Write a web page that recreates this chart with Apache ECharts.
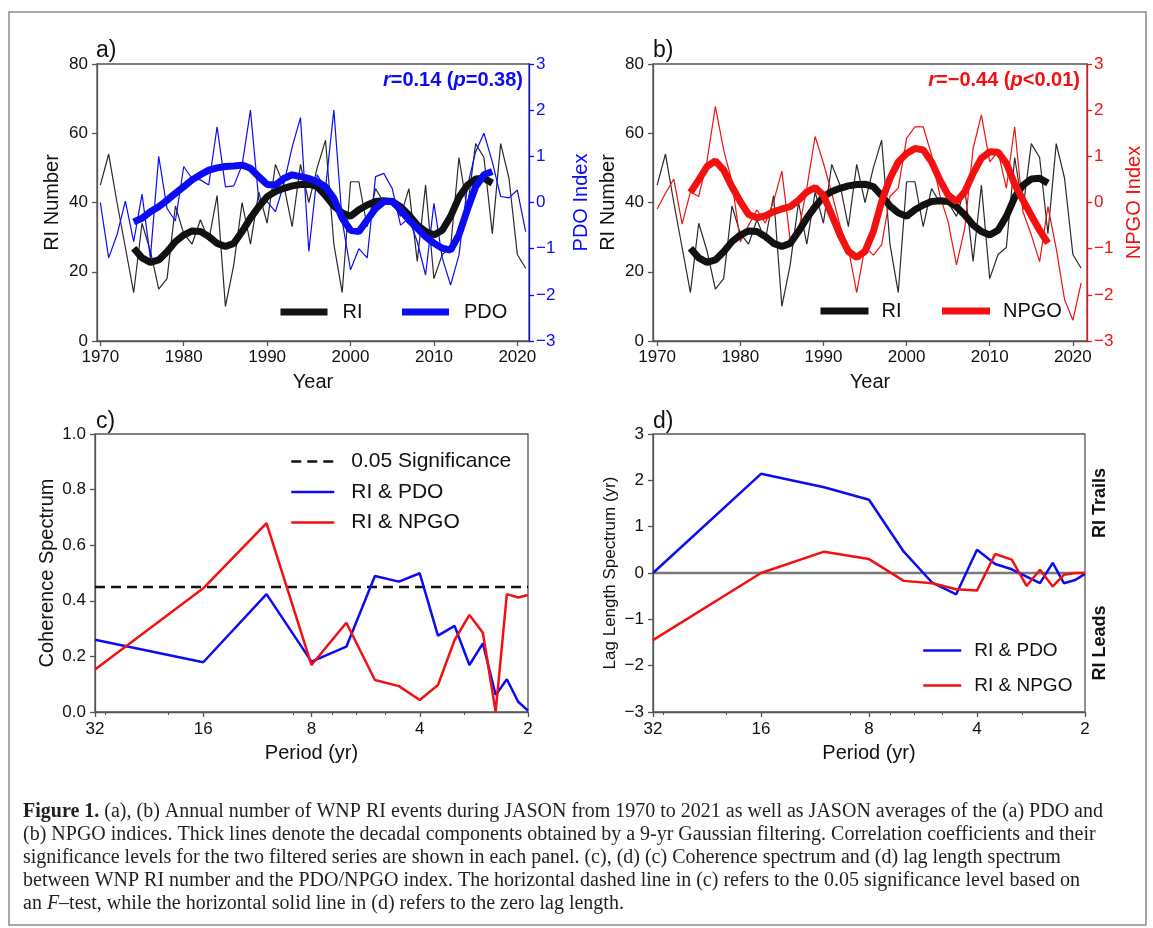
<!DOCTYPE html>
<html>
<head>
<meta charset="utf-8">
<title>Figure 1</title>
<script src="https://cdn.jsdelivr.net/npm/echarts@6/dist/echarts.min.js"></script>
<style>
  html, body { margin: 0; padding: 0; background: #fff; }
  #mychart { width: 1153px; height: 928px; }
</style>
</head>
<body>
<div id="mychart"></div>
<script>
// annual series, 1970-2021
const years = [1970, 1971, 1972, 1973, 1974, 1975, 1976, 1977, 1978, 1979,
  1980, 1981, 1982, 1983, 1984, 1985, 1986, 1987, 1988, 1989,
  1990, 1991, 1992, 1993, 1994, 1995, 1996, 1997, 1998, 1999,
  2000, 2001, 2002, 2003, 2004, 2005, 2006, 2007, 2008, 2009,
  2010, 2011, 2012, 2013, 2014, 2015, 2016, 2017, 2018, 2019,
  2020, 2021];
const riAnnual = [45, 54, 40, 27, 14, 34, 26, 15, 18, 39,
  31, 28, 35, 29, 42, 10, 22, 40, 28, 43,
  34, 51, 45, 33, 51, 40, 50, 58, 28, 14,
  46, 46, 33, 44, 40, 40, 36, 44, 23, 45,
  18, 25, 27, 53, 38, 57, 53, 31, 57, 47,
  25, 21];
const pdoAnnual = [0.0, -1.2, -0.7, 0.03, -0.85, 0.18, -1.2, 1.0, -0.13, -0.4,
  0.78, 0.52, 0.49, 0.38, 1.64, 0.34, 0.36, 0.81, 2.0, 0.05,
  0.02, -0.2, 0.4, 1.2, 1.84, -1.06, 0.6, 0.3, 2.0, -0.4,
  -1.46, -1.0, -1.2, 0.56, 0.63, 0.3, -0.49, -0.34, -0.85, -1.57,
  -0.02, -1.2, -1.79, -1.14, 0.34, 1.1, 1.5, 0.88, 0.13, 0.1,
  0.27, -0.63];
const npgoAnnual = [-0.14, 0.2, 0.51, -0.47, 0.23, 0.13, 0.9, 2.08, 1.14, 0.45,
  -0.85, -0.49, -0.16, -0.45, 0.02, 0.68, -0.81, -0.63, 0.31, 1.43,
  0.85, 0.2, -0.5, -1.0, -1.95, -0.96, -1.14, -0.92, 0.13, 0.31,
  1.39, 1.64, 1.64, 1.03, 0.16, -0.42, -1.35, -0.56, 1.17, 1.9,
  0.88, 1.1, 0.31, 1.64, -0.2, -0.7, -1.28, -0.09, -1.0, -2.1,
  -2.55, -1.74];

// 9-yr Gaussian filtered components, 1974-2017
const smoothYears = [1974, 1975, 1976, 1977, 1978, 1979, 1980, 1981, 1982, 1983,
  1984, 1985, 1986, 1987, 1988, 1989, 1990, 1991, 1992, 1993,
  1994, 1995, 1996, 1997, 1998, 1999, 2000, 2001, 2002, 2003,
  2004, 2005, 2006, 2007, 2008, 2009, 2010, 2011, 2012, 2013,
  2014, 2015, 2016, 2017];
const riSmooth = [26.8, 24, 22.7, 23.4, 25.8, 28.7, 30.6, 31.8, 31.6, 30.2,
  28.2, 27.3, 28.2, 31.6, 35.5, 38.8, 41.7, 43.2, 44.1, 44.8,
  45.2, 45.3, 44.6, 42, 39, 37, 36, 37.9, 39.3, 40.3,
  40.5, 40.3, 38.8, 36.4, 33.5, 31.6, 30.6, 32, 36, 41.5,
  45, 46.8, 47, 45.6];
const pdoSmooth = [-0.42, -0.34, -0.2, -0.09, 0.05, 0.2, 0.34, 0.49, 0.6, 0.7,
  0.75, 0.78, 0.79, 0.81, 0.74, 0.56, 0.39, 0.38, 0.52, 0.6,
  0.56, 0.52, 0.45, 0.34, 0.09, -0.34, -0.6, -0.63, -0.38, -0.13,
  0.02, 0.02, -0.16, -0.38, -0.56, -0.74, -0.88, -0.99, -1.03, -0.7,
  -0.16, 0.34, 0.6, 0.67];
const npgoSmooth = [0.22, 0.49, 0.78, 0.9, 0.7, 0.34, 0.02, -0.26, -0.33, -0.29,
  -0.2, -0.14, -0.09, 0.05, 0.23, 0.32, 0.16, -0.27, -0.7, -1.06,
  -1.19, -1.06, -0.63, 0.02, 0.52, 0.88, 1.06, 1.17, 1.14, 0.88,
  0.49, 0.16, 0.02, 0.23, 0.63, 0.96, 1.1, 1.09, 0.85, 0.4,
  0.05, -0.28, -0.6, -0.88];

// spectra, periods 32/k yr
const periods = [32, 16, 10.67, 8, 6.4, 5.33, 4.57, 4, 3.56, 3.2, 2.91, 2.67, 2.46, 2.29, 2.13, 2];
const cohPdo = [0.26, 0.179, 0.424, 0.181, 0.235, 0.489, 0.469, 0.499, 0.275, 0.31, 0.169, 0.247, 0.061, 0.118, 0.037, 0.005];
const cohNpgo = [0.153, 0.445, 0.679, 0.169, 0.321, 0.115, 0.093, 0.043, 0.097, 0.259, 0.349, 0.285, 0.001, 0.424, 0.412, 0.421];
const lagPdo = [0.0, 2.14, 1.85, 1.58, 0.46, -0.21, -0.46, 0.5, 0.195, 0.08, -0.08, -0.22, 0.22, -0.22, -0.15, -0.02];
const lagNpgo = [-1.45, 0.0, 0.46, 0.3, -0.17, -0.22, -0.35, -0.38, 0.41, 0.29, -0.28, 0.07, -0.29, -0.04, 0.0, 0.0];
const sigLevel = 0.45;
const zeroLag = 0;

// tick labels
const yearTicks = [1970, 1980, 1990, 2000, 2010, 2020];
const periodMinorTicks = [30, 20, 9, 7, 6, 5, 3];

const font = 'Liberation Sans, Arial, sans-serif';
const serif = 'Liberation Serif, Times New Roman, serif';
let colors = {
  text: '#111111',
  axis: '#555555',
  black: '#111111',
  thinBlack: '#2a2a2a',
  blue: '#0b0bf5',
  red: '#f21010',
  zero: '#7a7a7a',
  frame: '#8c8c8c',
  caption: '#231f20',
};

function pairs(xs, ys) {
  return xs.map((x, i) => [x, ys[i]]);
}

function minus(v) {
  return String(v).replace('-', '\u2212');
}

function lineSeries(name, x, y, data, color, width, extra) {
  return Object.assign({
    name: name,
    type: 'line',
    xAxisIndex: x,
    yAxisIndex: y,
    data: data,
    symbol: 'none',
    showSymbol: false,
    lineStyle: { color: color, width: width },
    itemStyle: { color: color },
    emphasis: { disabled: true },
    z: 2,
  }, extra || {});
}

function yearAxis(gridIndex, min, max) {
  return {
    type: 'value',
    gridIndex: gridIndex,
    min: min,
    max: max,
    position: 'bottom',
    name: 'Year',
    nameLocation: 'middle',
    nameGap: 31,
    nameTextStyle: { fontSize: 20, color: colors.text, fontFamily: font },
    axisLine: { show: true, onZero: false, lineStyle: { color: colors.axis, width: 1.3 } },
    axisTick: { show: true, length: 5, customValues: yearTicks, lineStyle: { color: colors.axis, width: 1.3 } },
    axisLabel: {
      customValues: yearTicks,
      margin: 8,
      fontSize: 17,
      color: colors.text,
      fontFamily: font,
      formatter: (v) => String(v),
    },
    splitLine: { show: false },
  };
}

function periodAxis(gridIndex) {
  return {
    type: 'log',
    logBase: 2,
    gridIndex: gridIndex,
    min: 2,
    max: 32,
    inverse: true,
    position: 'bottom',
    name: 'Period (yr)',
    nameLocation: 'middle',
    nameGap: 31,
    nameTextStyle: { fontSize: 20, color: colors.text, fontFamily: font },
    axisLine: { show: true, onZero: false, lineStyle: { color: colors.axis, width: 1.3 } },
    axisTick: { show: true, length: 5, lineStyle: { color: colors.axis, width: 1.3 } },
    axisLabel: { margin: 9, fontSize: 17, color: colors.text, fontFamily: font, formatter: (v) => String(v) },
    splitLine: { show: false },
    minorTick: { show: false },
  };
}

// minor ticks of the period axis, overlaid on the same grid
function periodMinorAxis(gridIndex) {
  return {
    type: 'log',
    logBase: 2,
    gridIndex: gridIndex,
    min: 2,
    max: 32,
    inverse: true,
    position: 'bottom',
    axisLine: { show: false, onZero: false },
    axisTick: { show: true, length: 3, customValues: periodMinorTicks, lineStyle: { color: colors.axis, width: 1 } },
    axisLabel: { show: false },
    splitLine: { show: false },
  };
}

function leftAxis(gridIndex, min, max, interval, name, nameGap, fmt, nameSize) {
  return {
    type: 'value',
    gridIndex: gridIndex,
    position: 'left',
    min: min,
    max: max,
    interval: interval,
    name: name,
    nameLocation: 'middle',
    nameRotate: 90,
    nameGap: nameGap,
    nameTextStyle: { fontSize: nameSize || 20, color: colors.text, fontFamily: font },
    axisLine: { show: true, onZero: false, lineStyle: { color: colors.axis, width: 1.3 } },
    axisTick: { show: true, length: 5, lineStyle: { color: colors.axis, width: 1.3 } },
    axisLabel: { margin: 9, fontSize: 17, color: colors.text, fontFamily: font, formatter: fmt },
    splitLine: { show: false },
  };
}

function indexAxis(gridIndex, color, name, nameGap) {
  return {
    type: 'value',
    gridIndex: gridIndex,
    position: 'right',
    min: -3,
    max: 3,
    interval: 1,
    name: name,
    nameLocation: 'middle',
    nameRotate: 90,
    nameGap: nameGap,
    nameTextStyle: { fontSize: 20, color: color, fontFamily: font },
    axisLine: { show: true, onZero: false, lineStyle: { color: color, width: 1.3 } },
    axisTick: { show: true, length: 5, lineStyle: { color: color, width: 1.3 } },
    axisLabel: { margin: 7, fontSize: 17, color: color, fontFamily: font, formatter: minus },
    splitLine: { show: false },
  };
}

function gridBox(left, top, width, height) {
  return {
    left: left, top: top, width: width, height: height,
    show: true,
    borderColor: colors.axis,
    borderWidth: 1.3,
    backgroundColor: 'transparent',
    containLabel: false,
    outerBoundsMode: 'none',
  };
}

function legendBox(data, left, top, opt) {
  return Object.assign({
    show: true,
    data: data,
    left: left,
    top: top,
    padding: 0,
    selectedMode: false,
    itemStyle: { opacity: 0 },
    textStyle: { fontSize: 20, color: colors.text, fontFamily: font },
  }, opt);
}

function richText(size, color, weight) {
  return {
    n: { fontSize: size, fontFamily: font, fontWeight: weight, fill: color, color: color },
    i: { fontSize: size, fontFamily: font, fontWeight: weight, fontStyle: 'italic', fill: color, color: color },
  };
}

function label(text, x, y, size, opt) {
  return {
    type: 'text',
    x: x,
    y: y,
    silent: true,
    style: Object.assign({
      text: text,
      fontSize: size,
      fontFamily: font,
      fill: colors.text,
      align: 'left',
      textAlign: 'left',
      verticalAlign: 'middle',
      textVerticalAlign: 'middle',
    }, opt || {}),
  };
}

const captionSize = 20;
const captionRich = {
  b: { fontSize: captionSize, fontFamily: serif, fontWeight: 'bold', fill: colors.caption },
  n: { fontSize: captionSize, fontFamily: serif, fill: colors.caption },
  i: { fontSize: captionSize, fontFamily: serif, fontStyle: 'italic', fill: colors.caption },
};
const captionLines = [
  '{b|Figure 1.}{n| (a), (b) Annual number of WNP RI events during JASON from 1970 to 2021 as well as JASON averages of the (a) PDO and}',
  '{n|(b) NPGO indices. Thick lines denote the decadal components obtained by a 9-yr Gaussian filtering. Correlation coefficients and their}',
  '{n|significance levels for the two filtered series are shown in each panel. (c), (d) (c) Coherence spectrum and (d) lag length spectrum}',
  '{n|between WNP RI number and the PDO/NPGO index. The horizontal dashed line in (c) refers to the 0.05 significance level based on}',
  '{n|an }{i|F}{n|\u2013test, while the horizontal solid line in (d) refers to the zero lag length.}',
];

let option = {
  backgroundColor: '#ffffff',
  animation: false,
  grid: [
    gridBox(97, 64, 432, 277),
    gridBox(653, 64, 434, 277),
    gridBox(95, 434, 433, 278),
    gridBox(653, 434, 432, 278),
  ],
  xAxis: [
    yearAxis(0, 1969.6, 2021.4),
    yearAxis(1, 1969.5, 2021.7),
    periodAxis(2),
    periodMinorAxis(2),
    periodAxis(3),
    periodMinorAxis(3),
  ],
  yAxis: [
    leftAxis(0, 0, 80, 20, 'RI Number', 35, (v) => String(v)),
    indexAxis(0, colors.blue, 'PDO Index', 42),
    leftAxis(1, 0, 80, 20, 'RI Number', 35, (v) => String(v)),
    indexAxis(1, colors.red, 'NPGO Index', 37),
    leftAxis(2, 0, 1, 0.2, 'Coherence Spectrum', 38, (v) => v.toFixed(1)),
    leftAxis(3, -3, 3, 1, 'Lag Length Spectrum (yr)', 34, minus, 17),
  ],
  legend: [
    legendBox(['RI', 'PDO'], 277, 302, {
      itemWidth: 47, itemHeight: 20, itemGap: 36,
      lineStyle: { width: 7 },
      textStyle: { fontSize: 20, color: colors.text, fontFamily: font, padding: [0, 0, 0, 10] },
    }),
    legendBox(['RI', 'NPGO'], 817, 301, {
      itemWidth: 48, itemHeight: 20, itemGap: 37,
      lineStyle: { width: 7 },
      textStyle: { fontSize: 20, color: colors.text, fontFamily: font, padding: [0, 0, 0, 8] },
    }),
    legendBox(['0.05 Significance', 'RI & PDO', 'RI & NPGO'], 290, 451, {
      orient: 'vertical',
      itemWidth: 43, itemHeight: 14, itemGap: 9.5,
      lineStyle: { width: 2.5 },
      textStyle: { fontSize: 21, lineHeight: 21, color: colors.text, fontFamily: font, padding: [0, 0, 0, 12] },
    }),
    legendBox(['RI & PDO', 'RI & NPGO'], 922, 641, {
      orient: 'vertical',
      itemWidth: 38, itemHeight: 14, itemGap: 16,
      lineStyle: { width: 2.5 },
      textStyle: { fontSize: 19, lineHeight: 19, color: colors.text, fontFamily: font, padding: [0, 0, 0, 8] },
    }),
  ],
  series: [
    // a) RI and PDO
    lineSeries('RI annual', 0, 0, pairs(years, riAnnual), colors.thinBlack, 1.2),
    lineSeries('PDO annual', 0, 1, pairs(years, pdoAnnual), colors.blue, 1.2),
    lineSeries('RI', 0, 0, pairs(smoothYears, riSmooth), colors.black, 7),
    lineSeries('PDO', 0, 1, pairs(smoothYears, pdoSmooth), colors.blue, 7),
    // b) RI and NPGO
    lineSeries('RI annual b', 1, 2, pairs(years, riAnnual), colors.thinBlack, 1.2),
    lineSeries('NPGO annual', 1, 3, pairs(years, npgoAnnual), colors.red, 1.2),
    lineSeries('RI', 1, 2, pairs(smoothYears, riSmooth), colors.black, 7),
    lineSeries('NPGO', 1, 3, pairs(smoothYears, npgoSmooth), colors.red, 7),
    // c) coherence
    lineSeries('0.05 Significance', 2, 4,
      [[periods[0], sigLevel], [periods[periods.length - 1], sigLevel]],
      colors.black, 2.5, { lineStyle: { color: colors.black, width: 2.5, type: [10, 6] } }),
    lineSeries('RI & PDO', 2, 4, pairs(periods, cohPdo), colors.blue, 2.5),
    lineSeries('RI & NPGO', 2, 4, pairs(periods, cohNpgo), colors.red, 2.5),
    // d) lag length
    lineSeries('zero lag', 4, 5,
      [[periods[0], zeroLag], [periods[periods.length - 1], zeroLag]],
      colors.zero, 2.5),
    lineSeries('RI & PDO', 4, 5, pairs(periods, lagPdo), colors.blue, 2.5),
    lineSeries('RI & NPGO', 4, 5, pairs(periods, lagNpgo), colors.red, 2.5),
  ],
  graphic: [
    {
      type: 'rect',
      silent: true,
      shape: { x: 9, y: 12, width: 1137, height: 913 },
      style: { fill: 'none', stroke: colors.frame, lineWidth: 1.5 },
    },
    label('a)', 96, 51, 23),
    label('b)', 653, 51, 23),
    label('c)', 96, 422, 23),
    label('d)', 653, 422, 23),
    label('{i|r}{n|=0.14 (}{i|p}{n|=0.38)}', 523, 80, 20, {
      align: 'right', textAlign: 'right', fill: colors.blue, fontWeight: 'bold',
      rich: richText(20, colors.blue, 'bold'),
    }),
    label('{i|r}{n|=\u22120.44 (}{i|p}{n|<0.01)}', 1080, 80, 20, {
      align: 'right', textAlign: 'right', fill: colors.red, fontWeight: 'bold',
      rich: richText(20, colors.red, 'bold'),
    }),
    Object.assign(label('RI Trails', 1100, 503, 18, {
      align: 'center', textAlign: 'center', fontWeight: 'bold',
    }), { rotation: Math.PI / 2 }),
    Object.assign(label('RI Leads', 1100, 643, 18, {
      align: 'center', textAlign: 'center', fontWeight: 'bold',
    }), { rotation: Math.PI / 2 }),
  ].concat(captionLines.map((t, i) => label(t, 23, 812 + i * 23, captionSize, {
    fontFamily: serif, fill: colors.caption, rich: captionRich,
  }))),
};

function initChart() {
  let chartDom = document.getElementById('mychart');
  let myChart = echarts.init(chartDom, null, { renderer: 'canvas' });
  myChart.setOption(option);
}

initChart();
</script>
</body>
</html>
